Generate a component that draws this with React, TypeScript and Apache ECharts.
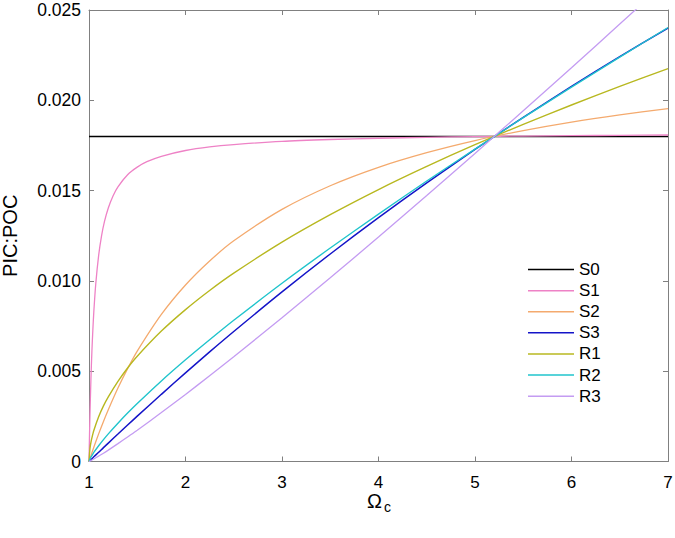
import React, { useEffect, useRef } from "react";
import * as echarts from "echarts";

// Ω_c values (x) shared by S0, S2, S3, R1, R2, R3
const omega = [1, 1.01, 1.02, 1.03, 1.05, 1.1, 1.15, 1.2, 1.3, 1.4, 1.5, 1.75, 2, 2.25, 2.5, 3, 3.5, 4, 4.5, 5, 5.5, 6, 6.5, 7];
// denser Ω_c values for the steep S1 curve
const omegaS1 = [1, 1.005, 1.01, 1.02, 1.03, 1.04, 1.05, 1.07, 1.1, 1.13, 1.16, 1.2, 1.25, 1.3, 1.4, 1.5, 1.6, 1.75, 2, 2.25, 2.5, 3, 3.5, 4, 4.5, 5, 5.5, 6, 6.5, 7];

const S0 = [0.018, 0.018, 0.018, 0.018, 0.018, 0.018, 0.018, 0.018, 0.018, 0.018, 0.018, 0.018, 0.018, 0.018, 0.018, 0.018, 0.018, 0.018, 0.018, 0.018, 0.018, 0.018, 0.018, 0.018];
const S1 = [0, 0.0014, 0.00261, 0.00456, 0.00609, 0.0073, 0.0083, 0.00983, 0.01141, 0.01249, 0.01328, 0.01404, 0.01472, 0.01521, 0.01588, 0.0163, 0.0166, 0.0169, 0.01722, 0.01742, 0.01755, 0.01773, 0.01783, 0.0179, 0.01795, 0.01799, 0.01802, 0.01804, 0.01806, 0.01808];
const S2 = [0, 0.00016, 0.00032, 0.00048, 0.00079, 0.00153, 0.00222, 0.00287, 0.00407, 0.00514, 0.00611, 0.00814, 0.00977, 0.0111, 0.01222, 0.01396, 0.01527, 0.01629, 0.0171, 0.01777, 0.01832, 0.01879, 0.01919, 0.01954];
const S3 = [0, 0.00005, 0.0001, 0.00015, 0.00026, 0.00051, 0.00077, 0.00102, 0.00152, 0.00202, 0.00251, 0.00372, 0.00491, 0.00607, 0.0072, 0.00939, 0.01149, 0.0135, 0.01543, 0.01728, 0.01906, 0.02077, 0.02242, 0.024];
const R1 = [0, 0.00073, 0.00106, 0.00131, 0.00172, 0.00248, 0.00308, 0.00358, 0.00444, 0.00518, 0.00583, 0.00722, 0.00841, 0.00947, 0.01043, 0.01215, 0.01367, 0.01506, 0.01634, 0.01754, 0.01867, 0.01974, 0.02077, 0.02175];
const R2 = [0, 0.00014, 0.00024, 0.00033, 0.0005, 0.00087, 0.00121, 0.00153, 0.00212, 0.00268, 0.00321, 0.00446, 0.00563, 0.00674, 0.00782, 0.00987, 0.01182, 0.0137, 0.01553, 0.0173, 0.01904, 0.02073, 0.02239, 0.02403];
const R3 = [0, 0.00002, 0.00005, 0.00008, 0.00014, 0.0003, 0.00046, 0.00063, 0.00099, 0.00136, 0.00173, 0.00271, 0.00371, 0.00475, 0.0058, 0.00796, 0.01017, 0.01243, 0.01473, 0.01706, 0.01942, 0.0218, 0.02422, 0.02665];

const seriesNames = ["S0", "S1", "S2", "S3", "R1", "R2", "R3"];
const seriesValues = [S0, S1, S2, S3, R1, R2, R3];
const seriesX = [omega, omegaS1, omega, omega, omega, omega, omega];
const seriesColors = ["#000000", "#EE82C6", "#F4AA6E", "#1414C8", "#B8B820", "#20C4CC", "#C49CF2"];
const seriesWidths = [1.5, 1.3, 1.3, 1.5, 1.4, 1.4, 1.3];

const xTitleMain = "Ω";
const xTitleSub = "c";
const yTitle = "PIC:POC";

const FONT = "'Liberation Sans', Arial, Helvetica, sans-serif";
const AXIS_GREY = "#808080";

export default function App() {
  const ref = useRef<HTMLDivElement>(null);

  useEffect(() => {
    if (!ref.current) return;
    const chart = echarts.init(ref.current, null, { renderer: "svg" });

    const baseAxis = {
      type: "value" as const,
      axisLine: { show: true, onZero: false, lineStyle: { color: AXIS_GREY, width: 1 } },
      axisTick: { show: true, inside: true, length: 5, lineStyle: { color: AXIS_GREY, width: 1 } },
      splitLine: { show: false },
    };

    const option = {
      animation: false,
      backgroundColor: "#ffffff",
      textStyle: { fontFamily: FONT },
      grid: { left: 89, right: 7, top: 10, bottom: 76.5, containLabel: false, outerBoundsMode: "none" },
      legend: {
        orient: "vertical",
        left: 523,
        top: 254,
        icon: "rect",
        itemWidth: 46,
        itemHeight: 1.5,
        itemGap: 0,
        data: seriesNames,
        textStyle: { fontSize: 17, lineHeight: 21.1, color: "#000", fontFamily: FONT },
      },
      graphic: [
        {
          type: "text",
          x: 374.5,
          y: 500.5,
          silent: true,
          style: {
            text: xTitleMain,
            fill: "#000",
            fontSize: 20,
            fontFamily: FONT,
            align: "center",
            verticalAlign: "middle",
            textAlign: "center",
            textVerticalAlign: "middle",
          },
        },
        {
          type: "text",
          x: 384,
          y: 506.5,
          silent: true,
          style: {
            text: xTitleSub,
            fill: "#000",
            fontSize: 14,
            fontFamily: FONT,
            align: "left",
            verticalAlign: "middle",
            textAlign: "left",
            textVerticalAlign: "middle",
          },
        },
      ],
      xAxis: [
        {
          ...baseAxis,
          min: 1,
          max: 7,
          interval: 1,
          position: "bottom",
          axisLabel: { color: "#000", fontSize: 17, margin: 12, fontFamily: FONT },
        },
        {
          ...baseAxis,
          min: 1,
          max: 7,
          interval: 1,
          position: "top",
          axisLabel: { show: false },
        },
      ],
      yAxis: [
        {
          ...baseAxis,
          min: 0,
          max: 0.025,
          interval: 0.005,
          position: "left",
          axisLabel: {
            color: "#000",
            fontSize: 17.5,
            margin: 8,
            fontFamily: FONT,
            formatter: (v: number) => (v === 0 ? "0" : v.toFixed(3)),
          },
          name: yTitle,
          nameLocation: "middle",
          nameGap: 69,
          nameTextStyle: { fontSize: 20, color: "#000", fontFamily: FONT },
        },
        {
          ...baseAxis,
          min: 0,
          max: 0.025,
          interval: 0.005,
          position: "right",
          axisLabel: { show: false },
        },
      ],
      series: seriesNames.map((name, k) => ({
        name,
        type: "line",
        xAxisIndex: 0,
        yAxisIndex: 0,
        data: seriesX[k].map((x, i) => [x, seriesValues[k][i]]),
        symbol: "none",
        showSymbol: false,
        smooth: 0.25,
        clip: true,
        color: seriesColors[k],
        lineStyle: { color: seriesColors[k], width: seriesWidths[k] },
        emphasis: { disabled: true },
      })),
    };

    chart.setOption(option as any);
    return () => chart.dispose();
  }, []);

  return (
    <div
      ref={ref}
      style={{ position: "absolute", left: 0, top: 0, width: 675, height: 538 }}
    />
  );
}
